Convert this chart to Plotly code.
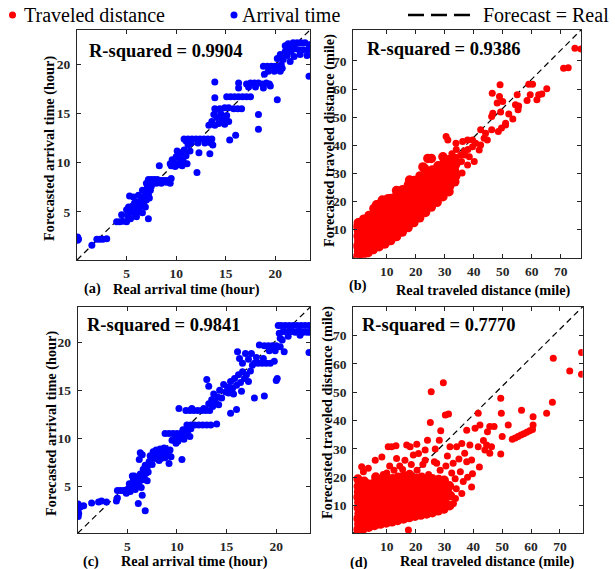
import plotly.graph_objects as go

W, H = 615, 569
FONT = "Liberation Serif"
AX = "#262626"

# ---------------- data (real, forecast) ----------------
# (a) arrival time, first model  (hours)
arrival_a = [
    (0.05, 2.1), (0.1, 2.35), (0.15, 2.2), (0.05, 2.45),
    (1.5, 1.6), (2.0, 2.2), (2.3, 2.2), (2.6, 2.2), (3.0, 2.25),
    (4.0, 4.0), (4.3, 4.0), (4.6, 4.05), (4.5, 4.7), (7.2, 4.3),
    (5.0, 4.0), (5.1, 4.6), (5.0, 5.2), (5.2, 5.5), (5.4, 4.3), (5.5, 5.0), (5.6, 5.6),
    (5.3, 6.6), (5.7, 6.5), (5.8, 4.8), (6.0, 5.3), (6.1, 6.0), (6.2, 6.7), (6.3, 5.0),
    (6.4, 5.6), (6.5, 6.3), (6.6, 7.2), (6.7, 5.9), (6.8, 6.6), (6.9, 7.0), (7.0, 6.2),
    (7.1, 7.5), (7.2, 6.8), (7.3, 7.9), (7.4, 7.2), (7.5, 7.6), (6.0, 4.5), (6.6, 4.9),
    (5.8, 5.9), (6.9, 5.5), (7.3, 6.4),
    (7.2, 8.3), (7.5, 8.3), (7.8, 8.3), (8.1, 8.3), (8.4, 8.2), (8.7, 8.2), (9.0, 8.2),
    (9.3, 8.2), (9.5, 8.4), (7.6, 8.0), (8.0, 7.9), (8.5, 7.9), (9.0, 8.0), (9.4, 7.9),
    (7.0, 7.9), (8.3, 9.7),
    (9.4, 9.9), (9.6, 10.3), (9.5, 9.7), (9.8, 10.0), (10.0, 10.6), (10.2, 9.8), (10.4, 10.4),
    (10.5, 11.0), (10.7, 10.2), (10.8, 11.3), (11.0, 10.7), (11.2, 11.8), (11.1, 9.9),
    (10.1, 11.2), (9.9, 9.6), (10.6, 9.7), (11.4, 11.2), (11.0, 12.2),
    (10.8, 12.4), (11.2, 12.4), (11.6, 12.4), (12.0, 12.4), (12.4, 12.4), (12.8, 12.4),
    (13.2, 12.4), (13.6, 12.4), (11.5, 12.0), (12.2, 12.0), (12.9, 12.0), (13.5, 12.0),
    (13.7, 11.8), (12.1, 9.0), (12.3, 11.0), (13.4, 10.9),
    (13.3, 13.8), (13.6, 14.2), (13.9, 13.8), (14.1, 14.6), (14.3, 14.0), (14.5, 15.0),
    (14.7, 14.4), (14.9, 13.9), (15.1, 14.8), (15.3, 14.2), (13.8, 14.9), (14.0, 15.4),
    (13.9, 18.2), (13.9, 16.6),
    (13.9, 15.5), (14.4, 15.5), (14.9, 15.6), (15.3, 15.6), (15.8, 15.5), (16.2, 15.5), (16.6, 15.5),
    (15.1, 16.7), (15.5, 16.7), (15.9, 16.7), (16.3, 16.7), (16.7, 16.7), (17.1, 16.7), (17.5, 16.7),
    (15.4, 12.3), (16.0, 12.8),
    (16.3, 18.1), (16.3, 17.6), (17.1, 18.0), (17.5, 18.1), (17.9, 18.1), (18.3, 18.1),
    (18.7, 18.0), (19.1, 18.1), (19.4, 18.0), (17.3, 17.7), (18.0, 17.7), (18.8, 17.6), (19.5, 17.8),
    (18.3, 14.9), (18.3, 13.4),
    (18.8, 19.8), (19.2, 19.8), (19.6, 19.8), (20.0, 19.8), (20.4, 19.8), (20.7, 19.6),
    (19.3, 19.3), (19.9, 19.3), (20.5, 19.3), (18.9, 19.0), (20.2, 16.4),
    (20.2, 20.6), (20.5, 21.0), (20.8, 20.5), (21.0, 21.3), (21.2, 20.9), (21.4, 21.8),
    (21.6, 21.3), (21.8, 22.2), (22.0, 21.6), (22.2, 22.2), (22.4, 21.5), (22.6, 22.2),
    (22.8, 21.5), (23.0, 22.2), (23.3, 21.5), (23.4, 22.0), (21.0, 21.9), (21.3, 22.1),
    (22.5, 21.0), (23.2, 20.9), (21.9, 20.8), (20.6, 20.0), (21.5, 20.3), (23.4, 18.8),
]

# (c) arrival time, second model  (hours)
arrival_c = [
    (0.05, 3.2), (0.1, 3.0), (0.05, 2.6), (0.1, 2.2), (0.05, 1.9), (0.3, 2.9), (0.6, 3.0),
    (1.4, 3.3), (2.1, 3.4), (2.4, 3.5), (2.9, 3.4), (3.9, 3.5), (4.0, 3.8),
    (4.0, 4.6), (4.3, 4.6), (4.6, 4.6), (4.8, 4.5),
    (6.1, 3.25), (6.5, 4.1), (6.8, 2.5),
    (4.9, 4.3), (5.1, 4.8), (5.2, 5.3), (5.3, 4.5), (5.5, 5.0), (5.6, 5.6), (5.8, 4.7),
    (5.9, 5.2), (6.0, 5.9), (5.7, 6.1), (6.2, 5.5), (6.3, 6.3), (6.4, 4.9), (6.5, 5.7),
    (6.6, 6.8), (6.7, 6.0), (6.8, 7.2), (6.9, 6.4), (7.0, 5.6), (5.5, 6.1),
    (6.3, 8.5), (6.2, 7.8), (6.5, 8.3),
    (7.0, 7.0), (7.2, 7.6), (7.3, 8.2), (7.5, 7.3), (7.6, 8.6), (7.8, 7.9), (7.9, 8.8),
    (8.1, 8.3), (8.3, 8.9), (8.4, 7.9), (8.6, 8.5), (8.8, 8.0), (8.9, 8.9), (9.1, 8.4),
    (9.3, 8.8), (9.2, 7.4), (9.4, 8.1), (7.1, 6.5), (7.7, 8.2), (8.2, 7.7), (8.7, 9.0),
    (10.5, 7.8),
    (8.8, 10.5), (9.2, 10.5), (9.6, 10.5), (10.0, 10.5), (10.2, 10.3),
    (9.5, 9.8), (9.8, 10.0), (10.1, 9.7), (10.3, 10.1), (10.5, 10.6), (10.7, 9.9),
    (10.9, 10.4), (11.1, 10.8), (11.3, 10.2), (9.9, 9.5), (10.6, 10.9), (11.4, 11.0),
    (11.0, 11.4), (11.4, 11.4), (11.8, 11.4), (12.2, 11.4), (12.6, 11.4), (13.0, 11.4), (13.4, 11.4),
    (14.0, 11.5),
    (10.2, 13.1), (10.9, 12.9), (11.3, 12.9), (11.7, 12.9), (12.1, 12.9), (12.5, 12.9),
    (12.9, 12.9), (13.3, 12.9), (11.5, 13.1), (12.7, 13.1),
    (13.0, 16.1), (13.2, 15.4), (13.2, 13.6), (13.5, 14.0), (13.7, 14.6), (13.9, 13.7),
    (14.1, 14.3), (14.3, 15.0), (14.5, 14.2), (14.7, 15.6), (14.9, 14.8), (15.1, 15.3),
    (13.6, 13.3), (14.2, 13.5),
    (15.2, 14.7), (15.4, 15.9), (15.6, 15.2), (15.8, 16.2), (16.0, 15.5), (16.2, 16.6),
    (16.4, 15.8), (16.6, 16.9), (16.8, 16.2), (17.0, 16.6), (17.2, 15.9), (17.4, 17.0),
    (15.7, 14.6), (16.5, 14.9),
    (15.4, 12.6), (16.0, 13.0), (17.8, 14.2), (18.8, 14.4),
    (16.1, 19.0), (16.3, 18.3), (16.6, 17.8), (16.9, 18.8), (17.2, 18.2), (17.5, 18.8), (17.6, 17.6),
    (17.8, 17.8), (18.2, 17.8), (18.6, 17.8), (19.0, 17.8), (19.4, 17.8), (19.8, 18.0),
    (18.0, 18.4), (18.7, 18.3), (18.3, 19.7),
    (18.8, 19.6), (19.2, 19.6), (19.6, 19.6), (20.0, 19.6), (20.4, 19.5), (19.3, 19.1), (19.9, 19.1),
    (20.0, 16.0), (20.1, 16.2), (20.8, 19.0),
    (20.2, 21.7), (20.5, 21.7), (20.9, 21.7), (21.3, 21.7), (21.7, 21.7), (22.1, 21.7),
    (22.5, 21.7), (22.9, 21.7), (23.3, 21.7), (20.3, 20.9), (20.7, 21.1), (21.1, 21.0),
    (21.5, 21.1), (21.9, 21.0), (22.3, 21.1), (22.7, 21.0), (23.1, 21.0), (23.4, 21.0),
    (20.4, 20.4), (21.2, 20.6), (20.6, 20.2), (22.4, 20.7), (23.3, 18.9),
]

# (b) traveled distance, first model (miles)
distance_b_dense = [
    (0.0, 0.6), (0.3, 2.4), (0.0, 4.2), (0.4, 5.9), (0.1, 7.7), (0.3, 9.5), (0.0, 11.1), (0.2, 12.4),
    (0.8, 1.2), (1.0, 3.4), (0.9, 10.4),
    (1.8, 1.0), (2.0, 2.9), (1.7, 4.8), (2.1, 6.6), (1.9, 8.5), (2.2, 10.2), (1.8, 12.0), (2.1, 13.7),
    (3.6, 1.8), (3.9, 3.8), (3.5, 5.7), (4.0, 7.5), (3.7, 9.4), (4.1, 11.2), (3.6, 13.1), (3.9, 15.0),
    (5.4, 2.9), (5.8, 4.8), (5.5, 6.7), (5.9, 8.6), (5.6, 10.5), (5.8, 12.4), (5.5, 14.3), (5.9, 16.1),
    (5.6, 17.5), (6.5, 18.8),
    (7.4, 3.9), (7.7, 5.8), (7.3, 7.7), (7.8, 9.6), (7.5, 11.5), (7.6, 13.4), (7.3, 15.3), (7.7, 17.1),
    (7.5, 19.0), (8.5, 20.5),
    (9.4, 4.9), (9.7, 6.8), (9.3, 8.7), (9.8, 10.6), (9.5, 12.5), (9.6, 14.4), (9.4, 16.3), (9.8, 18.1),
    (9.5, 19.9), (10.5, 21.0),
    (11.4, 6.1), (11.7, 8.0), (11.3, 9.9), (11.8, 11.8), (11.5, 13.7), (11.6, 15.6), (11.3, 17.5),
    (11.7, 19.4), (11.5, 21.1),
    (13.4, 7.5), (13.7, 9.4), (13.3, 11.3), (13.8, 13.2), (13.5, 15.1), (13.6, 17.0), (13.4, 18.9),
    (13.7, 20.7), (13.5, 22.3), (13.4, 23.9),
    (15.4, 9.1), (15.7, 11.0), (15.3, 12.9), (15.8, 14.8), (15.5, 16.7), (15.6, 18.6), (15.4, 20.5),
    (15.7, 22.4), (15.5, 24.2), (16.3, 23.9),
    (17.4, 10.7), (17.7, 12.6), (17.3, 14.5), (17.8, 16.4), (17.5, 18.3), (17.6, 20.2), (17.4, 22.1),
    (17.7, 24.0), (17.5, 25.9), (17.9, 27.6),
    (19.4, 12.5), (19.7, 14.4), (19.3, 16.3), (19.8, 18.2), (19.5, 20.1), (19.6, 22.0), (19.4, 23.9),
    (19.7, 25.8), (19.5, 27.5),
    (21.4, 14.2), (21.7, 16.1), (21.3, 18.0), (21.8, 19.9), (21.5, 21.8), (21.6, 23.7), (21.4, 25.6),
    (21.7, 27.5), (21.5, 29.1), (22.5, 32.3),
    (23.4, 16.1), (23.7, 18.0), (23.3, 19.9), (23.8, 21.8), (23.5, 23.7), (23.6, 25.6), (23.4, 27.5),
    (23.7, 29.3), (23.5, 30.6), (23.1, 31.7),
    (25.4, 18.0), (25.7, 19.9), (25.3, 21.8), (25.8, 23.7), (25.5, 25.6), (25.6, 27.5), (25.4, 29.4),
    (25.7, 31.2), (24.2, 35.3), (25.4, 35.3),
    (27.4, 19.7), (27.7, 21.6), (27.3, 23.5), (27.8, 25.4), (27.5, 27.3), (27.6, 29.2), (27.4, 31.1),
    (27.7, 32.7),
    (29.4, 21.7), (29.7, 23.6), (29.3, 25.5), (29.8, 27.4), (29.5, 29.3), (29.6, 31.2), (29.4, 33.1),
    (29.4, 35.9), (29.9, 33.6),
    (31.5, 23.5), (31.7, 25.4), (31.3, 27.3), (31.8, 29.2), (31.5, 31.1), (31.6, 33.0), (31.4, 34.8),
    (31.6, 30.7),
    (33.5, 27.0), (33.8, 29.0), (33.4, 31.0), (33.7, 33.0), (33.5, 35.3), (33.3, 27.7),
]
distance_b_sparse = [
    (74.9, 74.5), (77.0, 74.2), (71.0, 67.4), (72.6, 67.6), (65.2, 60.1), (59.0, 61.7), (60.3, 61.7),
    (59.5, 58.0), (58.4, 55.9), (62.4, 58.0), (63.5, 58.2), (61.8, 56.2), (55.0, 58.0), (54.4, 54.4),
    (55.5, 54.0), (55.3, 52.6), (49.1, 61.5), (48.9, 57.3), (50.0, 55.6), (48.1, 55.0), (46.4, 58.5),
    (46.6, 51.4), (46.2, 50.2), (49.3, 51.8), (53.5, 49.3), (52.1, 51.1), (51.0, 47.8), (49.6, 46.1),
    (48.5, 44.9), (46.2, 45.5), (51.0, 47.2), (42.4, 45.5), (44.1, 44.3), (44.7, 41.9), (43.6, 42.5),
    (30.5, 43.1), (31.1, 41.9), (33.9, 40.7), (36.2, 41.3), (37.9, 41.9), (39.6, 41.9), (40.7, 40.7),
    (42.4, 40.1), (41.9, 38.3), (39.6, 39.5), (38.5, 35.9), (40.2, 34.2), (37.9, 33.0), (36.0, 30.1),
    (33.3, 27.7), (31.6, 30.7), (35.5, 36.5), (36.8, 38.0), (34.5, 33.8), (35.8, 34.2), (37.0, 36.5),
    (38.0, 38.5), (32.5, 37.0), (34.0, 38.5),
]

# (d) traveled distance, second model (miles)
distance_d_dense = [
    (0.0, 1.6), (0.3, 3.5), (0.0, 5.4), (0.4, 7.3), (0.1, 9.2), (0.3, 11.1), (0.0, 13.0), (0.2, 14.9),
    (0.1, 16.8), (0.0, 19.4), (0.9, 2.5), (1.0, 12.0),
    (1.8, 1.8), (2.1, 3.7), (1.7, 5.6), (2.2, 7.5), (1.9, 9.4), (2.0, 11.3), (1.8, 13.2), (2.1, 15.1),
    (1.9, 17.0), (2.2, 18.6),
    (3.8, 2.4), (4.1, 4.3), (3.7, 6.2), (4.2, 8.1), (3.9, 10.0), (4.0, 11.9), (3.8, 13.8), (4.1, 15.7),
    (3.9, 17.6),
    (5.8, 3.0), (6.1, 4.9), (5.7, 6.8), (6.2, 8.7), (5.9, 10.6), (6.0, 12.5), (5.8, 14.4), (6.1, 16.3),
    (5.9, 18.2), (6.2, 20.1),
    (7.8, 3.5), (8.1, 5.4), (7.7, 7.3), (8.2, 9.2), (7.9, 11.1), (8.0, 13.0), (7.8, 14.9), (8.1, 16.8),
    (7.9, 18.7),
    (9.8, 3.9), (10.1, 5.8), (9.7, 7.7), (10.2, 9.6), (9.9, 11.5), (10.0, 13.4), (9.8, 15.3),
    (10.1, 17.2), (9.9, 19.1),
    (11.8, 4.3), (12.1, 6.2), (11.7, 8.1), (12.2, 10.0), (11.9, 11.9), (12.0, 13.8), (11.8, 15.7),
    (12.1, 17.6), (11.9, 19.5),
    (13.8, 4.8), (14.1, 6.7), (13.7, 8.6), (14.2, 10.5), (13.9, 12.4), (14.0, 14.3), (13.8, 16.2),
    (14.1, 18.1), (13.9, 20.0),
    (15.8, 5.3), (16.1, 7.2), (15.7, 9.1), (16.2, 11.0), (15.9, 12.9), (16.0, 14.8), (15.8, 16.7),
    (16.1, 18.6), (15.9, 20.4),
    (17.8, 5.8), (18.1, 7.7), (17.7, 9.6), (18.2, 11.5), (17.9, 13.4), (18.0, 15.3), (17.8, 17.2),
    (18.1, 19.1), (17.9, 21.0),
    (19.8, 6.3), (20.1, 8.2), (19.7, 10.1), (20.2, 12.0), (19.9, 13.9), (20.0, 15.8), (19.8, 17.7),
    (20.1, 19.6),
    (21.8, 6.7), (22.1, 8.6), (21.7, 10.5), (22.2, 12.4), (21.9, 14.3), (22.0, 16.2), (21.8, 18.1),
    (22.1, 20.0),
    (23.8, 7.1), (24.1, 9.0), (23.7, 10.9), (24.2, 12.8), (23.9, 14.7), (24.0, 16.6), (23.8, 18.5),
    (25.8, 7.5), (26.1, 9.6), (25.7, 11.5), (26.2, 13.4), (25.9, 15.3), (26.0, 17.2), (25.8, 19.5),
    (27.8, 8.2), (28.1, 10.5), (27.7, 12.6), (28.2, 14.8), (27.9, 17.0), (28.0, 19.2),
    (29.8, 8.8), (30.1, 11.5), (29.7, 14.0), (30.2, 16.5), (29.9, 19.0),
    (31.8, 10.0), (32.1, 13.5), (31.7, 17.0),
]
distance_d_sparse = [
    (1.3, 23.7), (1.9, 22.0), (3.6, 23.2), (6.0, 26.0), (8.3, 27.2), (8.8, 21.0), (10.0, 21.5),
    (10.5, 30.8), (11.0, 24.0), (11.7, 30.8), (13.2, 31.1), (12.5, 22.5), (13.4, 26.6), (14.5, 24.0),
    (16.9, 31.4), (16.3, 26.0), (15.5, 22.8), (18.1, 30.8), (17.5, 1.4), (18.5, 24.5), (20.4, 31.7),
    (19.2, 27.9), (21.0, 28.4), (20.5, 22.5), (22.5, 24.5), (23.3, 29.6), (23.3, 26.0), (24.1, 33.1),
    (24.5, 21.0), (26.5, 25.5), (27.3, 25.0), (26.8, 30.0), (28.5, 22.5), (30.3, 13.2), (31.4, 15.5),
    (30.5, 24.0), (31.0, 27.5), (33.1, 10.8), (32.5, 21.5), (33.0, 25.0), (33.8, 12.5), (34.1, 16.0),
    (33.7, 19.5), (36.0, 14.3), (35.5, 22.0), (36.5, 18.5), (38.0, 20.0), (35.0, 26.5), (37.0, 28.5),
    (25.4, 50.2), (25.1, 39.3), (28.7, 36.4), (28.2, 33.1), (29.6, 53.4), (30.3, 42.0), (31.4, 42.3),
    (31.9, 30.8), (34.2, 30.8), (36.0, 31.9), (37.7, 36.6), (40.6, 37.3), (38.8, 31.4), (41.7, 30.8),
    (44.6, 31.4), (46.3, 30.8), (45.7, 28.5), (44.0, 29.6), (39.4, 26.1), (37.7, 25.5), (42.1, 23.6),
    (39.7, 21.3), (39.4, 16.6),
    (77.5, 64.0), (77.5, 56.4), (73.4, 57.5), (67.7, 62.0), (67.4, 46.5), (65.4, 42.6), (60.7, 41.4),
    (60.7, 38.5), (56.7, 43.7), (49.5, 47.9), (49.7, 42.6), (52.1, 38.5), (50.0, 34.4), (49.5, 28.2),
    (47.2, 37.9), (44.9, 36.1), (41.7, 42.6), (42.3, 38.5), (45.7, 37.9), (43.5, 33.0),
    (53.5, 33.4), (54.5, 33.9), (55.5, 34.4), (56.5, 34.9), (57.5, 35.4), (58.5, 35.9), (59.5, 36.4),
    (60.5, 36.9),
]

r_squared = ["0.9904", "0.9386", "0.9841", "0.7770"]
panel_tags = ["(a)", "(b)", "(c)", "(d)"]
time_ticks = [5, 10, 15, 20]
distance_ticks = [10, 20, 30, 40, 50, 60, 70]
legend_labels = ["Traveled distance", "Arrival time", "Forecast = Real"]

RED = "#FF0000"
BLUE = "#0000FF"


def px(x):
    return x / W


def py(y):
    return 1 - y / H


fig = go.Figure()

traces = [
    # data, color, axis suffix, marker diameter
    (arrival_a, BLUE, "", 7),
    (distance_b_dense, RED, "2", 9.5),
    (distance_b_sparse, RED, "2", 7),
    (arrival_c, BLUE, "3", 7),
    (distance_d_dense, RED, "4", 9.5),
    (distance_d_sparse, RED, "4", 7),
]
for pts, col, s, sz in traces:
    fig.add_trace(go.Scatter(
        x=[p[0] for p in pts], y=[p[1] for p in pts], mode="markers",
        marker=dict(color=col, size=sz, line=dict(width=0)),
        xaxis="x" + s, yaxis="y" + s, showlegend=False, hoverinfo="skip"))

# axes geometry (pixels) and ranges
geo = {
    "": dict(x=(77, 310), y=(30, 260), xr=[0, 23.5], yr=[0.1, 23.5], tv=time_ticks, so=1),
    "2": dict(x=(353.3, 581), y=(30, 257.7), xr=[-1.5, 77], yr=[0, 81], tv=distance_ticks, so=1),
    "3": dict(x=(77.7, 310), y=(307.3, 533.3), xr=[0, 23.4], yr=[0.15, 23.6], tv=time_ticks, so=0),
    "4": dict(x=(353.3, 582.7), y=(306.7, 533.3), xr=[-1.6, 77.9], yr=[0.25, 80.2], tv=distance_ticks, so=0),
}
tickfont = dict(family=FONT, size=13.5, color=AX, weight="bold")
common = dict(ticks="inside", ticklen=4, tickwidth=1, tickcolor=AX, showline=True,
              linecolor=AX, linewidth=1, mirror="ticks", showgrid=False, zeroline=False,
              tickfont=tickfont)
layout_axes = {}
for s, g in geo.items():
    layout_axes["xaxis" + s] = dict(domain=[px(g["x"][0]), px(g["x"][1])], range=g["xr"],
                                    tickvals=g["tv"], anchor="y" + s, ticklabelstandoff=g["so"], **common)
    layout_axes["yaxis" + s] = dict(domain=[py(g["y"][1]), py(g["y"][0])], range=g["yr"],
                                    tickvals=g["tv"], anchor="x" + s, ticklabelstandoff=3, **common)
    # Forecast = Real reference line (corner to corner of each axes box)
    fig.add_shape(type="line", xref="x" + s + " domain", yref="y" + s + " domain",
                  x0=0, y0=0, x1=1, y1=1, layer="below",
                  line=dict(color="black", width=1.2, dash="6px,4px"))

ann = []
bold = dict(family=FONT, color="black", weight="bold")
# R-squared text
for (x, y), r in zip([(86.7, 51.5), (365, 48.5), (85, 325), (360, 325)], r_squared):
    ann.append(dict(x=px(x), y=py(y), xref="paper", yref="paper", xanchor="left", yanchor="middle",
                    text="R-squared = " + r, showarrow=False, font=dict(size=18.5, **bold)))
# x-axis titles and panel tags
xtitles = ["Real arrival time (hour)", "Real traveled distance (mile)",
           "Real arrival time (hour)", "Real traveled distance (mile)"]
for (x, y), t in zip([(186.7, 289), (483.7, 290), (194, 561), (487.5, 561)], xtitles):
    ann.append(dict(x=px(x), y=py(y), xref="paper", yref="paper", xanchor="center", yanchor="middle",
                    text=t, showarrow=False, font=dict(size=14.3, **bold)))
for (x, y), t in zip([(92, 288), (358, 285), (91, 561), (359, 562)], panel_tags):
    ann.append(dict(x=px(x), y=py(y), xref="paper", yref="paper", xanchor="center", yanchor="middle",
                    text=t, showarrow=False, font=dict(size=14.3, **bold)))
ytitles = ["Forecasted arrival time (hour)", "Forecasted traveled distance (mile)",
           "Forecasted arrival time (hour)", "Forecasted traveled distance (mile)"]
for (x, y), t in zip([(49, 149), (329, 141), (51, 424), (327, 413)], ytitles):
    ann.append(dict(x=px(x), y=py(y), xref="paper", yref="paper", xanchor="center", yanchor="middle",
                    text=t, textangle=-90, showarrow=False, font=dict(size=14.3, **bold)))

# legend (drawn manually across the top)
legfont = dict(family=FONT, size=20, color="black")
for x, t in zip([21.6, 240, 481], legend_labels):
    ann.append(dict(x=px(x), y=py(15), xref="paper", yref="paper", xanchor="left", yanchor="middle",
                    text=t, showarrow=False, font=legfont))
for cx, col in [(12.5, RED), (234, BLUE)]:
    fig.add_shape(type="circle", xref="paper", yref="paper",
                  x0=px(cx - 3.5), x1=px(cx + 3.5), y0=py(15 + 3.5), y1=py(15 - 3.5),
                  fillcolor=col, line=dict(width=0))
fig.add_shape(type="line", xref="paper", yref="paper", x0=px(408), x1=px(474), y0=py(15), y1=py(15),
              line=dict(color="black", width=2.5, dash="16px,7px"))

fig.update_layout(width=W, height=H, margin=dict(l=0, r=0, t=0, b=0),
                  paper_bgcolor="white", plot_bgcolor="white",
                  annotations=ann, **layout_axes)

fig.write_html("out.html", config={"displayModeBar": False},
               post_script="document.body.style.margin='0';")
